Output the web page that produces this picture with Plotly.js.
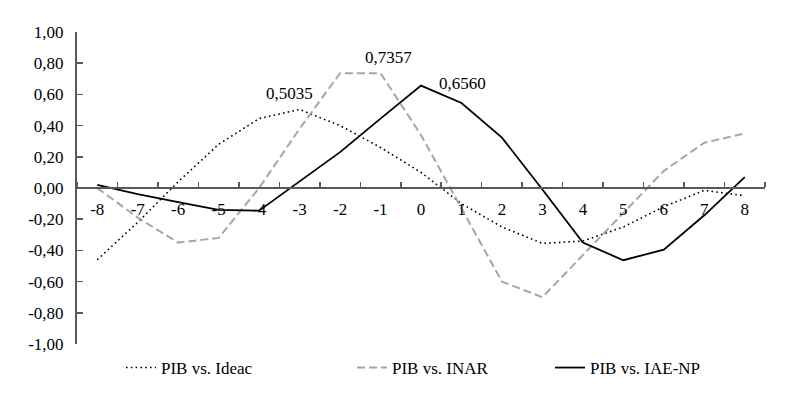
<!DOCTYPE html>
<html>
<head>
<meta charset="utf-8">
<script src="https://cdn.plot.ly/plotly-3.0.1.min.js"></script>
<style>html,body{margin:0;padding:0;background:#fff;}#chart{width:787px;height:394px;}</style>
</head>
<body>
<div id="chart"></div>
<script>
// Lags (categories)
var lags = [-8,-7,-6,-5,-4,-3,-2,-1,0,1,2,3,4,5,6,7,8];
// Series values (cross-correlations)
var ideac = [-0.46,-0.22,0.04,0.28,0.445,0.5035,0.40,0.26,0.10,-0.10,-0.25,-0.355,-0.34,-0.25,-0.12,-0.015,-0.05];
var inar  = [0.00,-0.19,-0.35,-0.32,0.00,0.38,0.7357,0.7357,0.34,-0.13,-0.60,-0.70,-0.43,-0.16,0.11,0.29,0.35];
var iaenp = [0.02,-0.04,-0.09,-0.14,-0.145,0.04,0.23,0.445,0.656,0.545,0.323,-0.01,-0.35,-0.463,-0.395,-0.175,0.07];
var seriesNames = ['PIB vs. Ideac','PIB vs. INAR','PIB vs. IAE-NP'];
// Y tick labels
var yTickVals = [-1,-0.8,-0.6,-0.4,-0.2,0,0.2,0.4,0.6,0.8,1];
var yTickText = ['-1,00','-0,80','-0,60','-0,40','-0,20','0,00','0,20','0,40','0,60','0,80','1,00'];
var xTickText = lags.map(String);
// Peak labels
var peakLabels = ['0,5035','0,7357','0,6560'];

var font = 'Liberation Serif, Times New Roman, serif';
var axisColor = '#595959';

var traces = [
  {x: lags, y: ideac, name: seriesNames[0], mode: 'lines', line: {color: '#000000', width: 1.6, dash: '1.6px,3.2px'}, legend: 'legend'},
  {x: lags, y: inar, name: seriesNames[1], mode: 'lines', line: {color: '#A6A6A6', width: 2, dash: '8px,4px'}, legend: 'legend2'},
  {x: lags, y: iaenp, name: seriesNames[2], mode: 'lines', line: {color: '#000000', width: 1.8}, legend: 'legend3'}
];

function peakIdx(arr){ var m = 0; for (var i=1;i<arr.length;i++){ if(arr[i]>arr[m]) m=i; } return m; }
var iI = peakIdx(ideac), iN = 7, iA = peakIdx(iaenp);

var annFont = {family: font, size: 17, color: '#000'};
var annotations = [
  {x: lags[iI], y: ideac[iI], text: peakLabels[0], showarrow: false, xshift: -10, yshift: 16, font: annFont},
  {x: lags[iN], y: inar[iN], text: peakLabels[1], showarrow: false, xshift: 8, yshift: 16, font: annFont},
  {x: lags[iA], y: iaenp[iA], text: peakLabels[2], showarrow: false, xshift: 41, yshift: 2, font: annFont}
];

var L = 77, R = 765, T = 32, B = 344;
function leg(px){
  return {xref: 'paper', yref: 'paper', x: (px - L)/(R - L), y: (B - 368)/(B - T), xanchor: 'left', yanchor: 'middle',
          font: {family: font, size: 17, color: '#000'}, bgcolor: 'rgba(0,0,0,0)', borderwidth: 0, itemwidth: 30};
}

var layout = {
  width: 787, height: 394,
  margin: {l: L, r: 787 - R, t: T, b: 394 - B, pad: 0, autoexpand: false},
  paper_bgcolor: '#ffffff', plot_bgcolor: '#ffffff',
  font: {family: font, size: 17, color: '#000'},
  showlegend: true,
  legend: leg(163 - 42),
  legend2: leg(394 - 42),
  legend3: leg(592 - 42),
  xaxis: {
    range: [-8.5, 8.5], anchor: 'free', position: 0.5,
    tickmode: 'array', tickvals: lags, ticktext: xTickText,
    ticks: '', showgrid: false, zeroline: false,
    showline: true, linecolor: axisColor, linewidth: 2,
    ticklabelstandoff: 6,
    tickfont: {family: font, size: 17, color: '#000'},
    minor: {tick0: -8.5, dtick: 1, ticks: 'inside', ticklen: 5, tickwidth: 1.5, tickcolor: axisColor, showgrid: false}
  },
  yaxis: {
    range: [-1, 1], tickmode: 'array', tickvals: yTickVals, ticktext: yTickText,
    ticks: 'inside', ticklen: 6, tickwidth: 1.5, tickcolor: axisColor,
    showgrid: false, zeroline: false,
    showline: true, linecolor: axisColor, linewidth: 2,
    ticklabelstandoff: 8,
    tickfont: {family: font, size: 17, color: '#000'}
  },
  annotations: annotations
};

Plotly.newPlot('chart', traces, layout, {displayModeBar: false, staticPlot: true});
</script>
</body>
</html>
